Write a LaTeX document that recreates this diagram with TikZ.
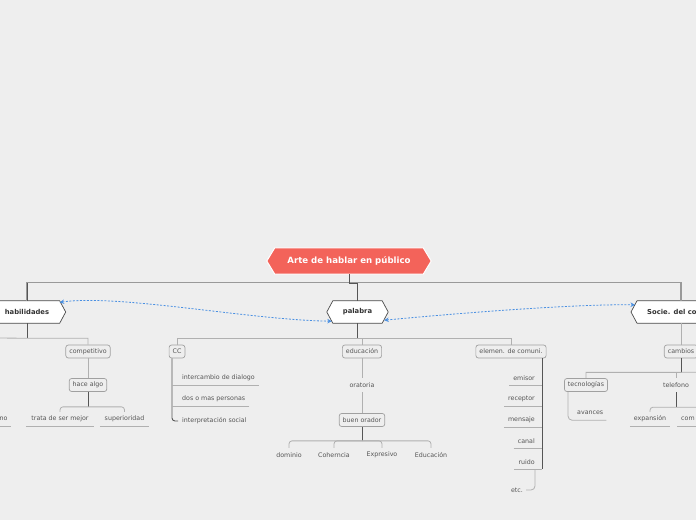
\documentclass[tikz,border=0pt]{standalone}
\usepackage{fontspec}
\setmainfont{DejaVu Sans}
\usetikzlibrary{calc,backgrounds,arrows.meta}
\definecolor{bgc}{HTML}{EEEEEE}
\definecolor{rootc}{HTML}{F3635A}
\definecolor{hexb}{HTML}{4A4A4A}
\definecolor{txtc}{HTML}{555555}
\definecolor{hext}{HTML}{333333}
\definecolor{boxc}{HTML}{A0A0A0}
\definecolor{lgc}{HTML}{B0B0B0}
\definecolor{dgc}{HTML}{555555}
\definecolor{tgc}{HTML}{999999}
\definecolor{bluec}{HTML}{4A90E2}
\newcommand\smf{\fontsize{6.3}{7.5}\selectfont}
\newcommand\bdf{\fontsize{6.8}{8}\selectfont\bfseries}
\newcommand\rtf{\fontsize{8.6}{10}\selectfont\bfseries}
\begin{document}
\begin{tikzpicture}[x=1pt,y=-1pt,
  hexn/.style={inner sep=0pt, minimum height=22pt, font=\bdf, text=hext},
  hexsty/.style={draw=hexb, line width=0.7pt, fill=white},
  rootsty/.style={draw=white, line width=1pt, fill=rootc},
  sbox/.style={draw=boxc, rounded corners=2.5pt, fill=bgc, line width=0.7pt, minimum height=13pt, inner ysep=0pt, inner xsep=3.5pt, font=\smf, text=txtc},
  lbl/.style={inner sep=0pt, minimum height=14pt, font=\smf, text=txtc},
  ll/.style={draw=lgc, line width=0.8pt},
  dl/.style={draw=dgc, line width=0.9pt},
  tl/.style={draw=tgc, line width=1.3pt},
  blink/.style={draw=bluec, line width=0.8pt, dash pattern=on 2pt off 1.5pt, {Stealth[length=4.5pt,width=4.5pt,fill=bluec]}-{Stealth[length=4.5pt,width=4.5pt,fill=bluec]}}
]
\useasboundingbox (0,0) rectangle (696,520);
\clip (0,0) rectangle (696,520);

% hexagon nodes
\node[hexn, minimum width=148pt, minimum height=26pt, font=\rtf, text=white] (root) at (349,261) {Arte de hablar en público};
\node[hexn, minimum width=65pt] (hab) at (27,312) {habilidades};
\node[hexn, minimum width=49pt] (pal) at (357.5,312) {palabra};
\node[hexn, anchor=west, text width=80pt, inner xsep=10pt, align=left] (soc) at (637,312) {Socie. del co};
\coordinate (socTop) at (681,301);

\begin{scope}[on background layer]
  \clip (0,0) rectangle (696,520);
  \fill[bgc] (0,0) rectangle (696,520);
  \path[rootsty] (root.north west) -- (root.north east) -- ($(root.east)+(8,0)$) -- (root.south east) -- (root.south west) -- ($(root.west)+(-8,0)$) -- cycle;
  \foreach \n in {hab,pal,soc}
    \path[hexsty] (\n.north west) -- (\n.north east) -- ($(\n.east)+(6,0)$) -- (\n.south east) -- (\n.south west) -- ($(\n.west)+(-6,0)$) -- cycle;
\end{scope}

% trunk
\draw[tl] (hab.north) -- ++(0,-18) -| (socTop);
\draw[dl] (hab.north) -- ++(0,-18);
\draw[dl] (root.south) -- ++(0,9) -| (pal.north);

% habilidades branch
\coordinate (hl) at (-10,338);
\node[sbox] (comp) at (88,351.5) {competitivo};
\node[sbox] (hace) at (88,385) {hace algo};
\node[lbl, minimum width=68pt] (t1) at (60,419) {trata de ser mejor};
\node[lbl, minimum width=49pt] (sup) at (124.5,419) {superioridad};
\node[lbl, minimum width=15pt] (nol) at (3.5,419) {no};
\draw[dl] (hab.south) -- ++(0,15) coordinate (hj);
\draw[ll] (hl) -- (hj) -| (comp.north);
\draw[ll] (comp.south) -- (hace.north);
\draw[dl] (hace.south) -- ++(0,15) coordinate (aj);
\draw[ll, rounded corners=3pt] (t1.north) |- (aj) -| (sup.north);
\foreach \u in {t1,sup,nol} \draw[ll] (\u.south west) -- (\u.south east);

% palabra branch
\node[sbox] (cc) at (177,351.5) {CC};
\node[sbox] (edu) at (362,351.5) {educación};
\node[sbox] (elem) at (511,351.5) {elemen. de comuni.};
\draw[dl] (pal.south) -- ++(0,15) coordinate (pj);
\draw[ll] (cc.north) |- (pj) -| (elem.north);
\draw[ll] (pj) -| (edu.north);

% CC children
\coordinate (ccv) at ($(cc.south)+(-5,0)$);
\node[lbl, anchor=west, inner xsep=4pt] (i1) at (178,378) {intercambio de dialogo};
\node[lbl, anchor=west, inner xsep=4pt] (i2) at (178,399) {dos o mas personas};
\node[lbl, anchor=west, inner xsep=4pt] (i3) at (178,421) {interpretación social};
\draw[dl, rounded corners=3pt] (ccv) |- (i3.west);
\foreach \u in {i1,i2} \draw[ll] (\u.south east) -- (\u.south -| ccv);

% educacion children
\node[lbl] (ora) at (362,385) {oratoria};
\node[sbox] (bo) at (362,420) {buen orador};
\draw[ll] (edu.south) -- (ora.north);
\draw[ll] (ora.south) -- (bo.north);
\draw[dl] (bo.south) -- ++(0,14) coordinate (bj);
\node[lbl] (d1) at (289,455) {dominio};
\node[lbl] (d2) at (334,455) {Coherncia};
\node[lbl] (d3) at (382,455) {Expresivo};
\node[lbl] (d4) at (431,455) {Educación};
\foreach \d in {d1,d2,d3,d4} \draw[ll, rounded corners=3pt] (\d.north) |- (bj);

% elementos children
\coordinate (ev) at ($(elem.south east)+(-4,0)$);
\node[lbl, anchor=east, inner xsep=4pt] (e1) at (539,378) {emisor};
\node[lbl, anchor=east, inner xsep=4pt] (e2) at (539,399) {receptor};
\node[lbl, anchor=east, inner xsep=4pt] (e3) at (539,420) {mensaje};
\node[lbl, anchor=east, inner xsep=4pt] (e4) at (539,441) {canal};
\node[lbl, anchor=east, inner xsep=4pt] (e5) at (539,462) {ruido};
\node[lbl, inner xsep=3pt] (etc) at (517,490) {etc.};
\draw[dl] (ev) -- (ev |- e5.south);
\foreach \e in {e1,e2,e3,e4,e5} \draw[ll] (\e.south west) -- (\e.south -| ev);
\draw[ll, rounded corners=4pt] ($(e5.south east)+(-4,1)$) |- (etc.east);

% sociedad branch
\node[sbox] (cam) at (681,351.5) {cambios};
\draw[ll] (socTop |- soc.south) -- (cam.north);
\draw[dl] (cam.south) -- ++(0,14) coordinate (cj);
\coordinate (cr) at (720,372);
\node[sbox] (tec) at (586,385) {tecnologías};
\node[lbl] (tel) at (676,385) {telefono};
\draw[ll] (tec.north) |- (cj) -- (cr);
\draw[ll] (cj -| tel.north) -- (tel.north);
\draw[dl] (tel.south) -- ++(0,15) coordinate (tj);
\node[lbl, minimum width=40pt] (x1) at (650,419) {expansión};
\node[lbl, anchor=west, inner xsep=4pt, text width=40pt, align=left] (x2) at (677,419) {com};
\draw[ll, rounded corners=3pt] (x1.north) |- (tj) -| (x2.north);
\foreach \u in {x1,x2} \draw[ll] (\u.south west) -- (\u.south east);
\node[lbl, anchor=west, inner xsep=3pt] (av) at (574,413) {avances};
\draw[ll, rounded corners=4pt] ($(tec.south west)+(4,0)$) |- (av.south east);

% relationship arrows
\coordinate (a1) at ($(hab.north east)+(0,1.5)$);
\coordinate (a2) at ($(pal.south west)+(-1,-2)$);
\coordinate (a3) at ($(pal.south east)+(2,-3)$);
\coordinate (a4) at ($(soc.north west)+(-2,4)$);
\draw[blink] (a1) .. controls (120,294) and (250,320) .. (a2);
\draw[blink] (a3) .. controls (450,314) and (570,304) .. (a4);
\end{tikzpicture}
\end{document}
